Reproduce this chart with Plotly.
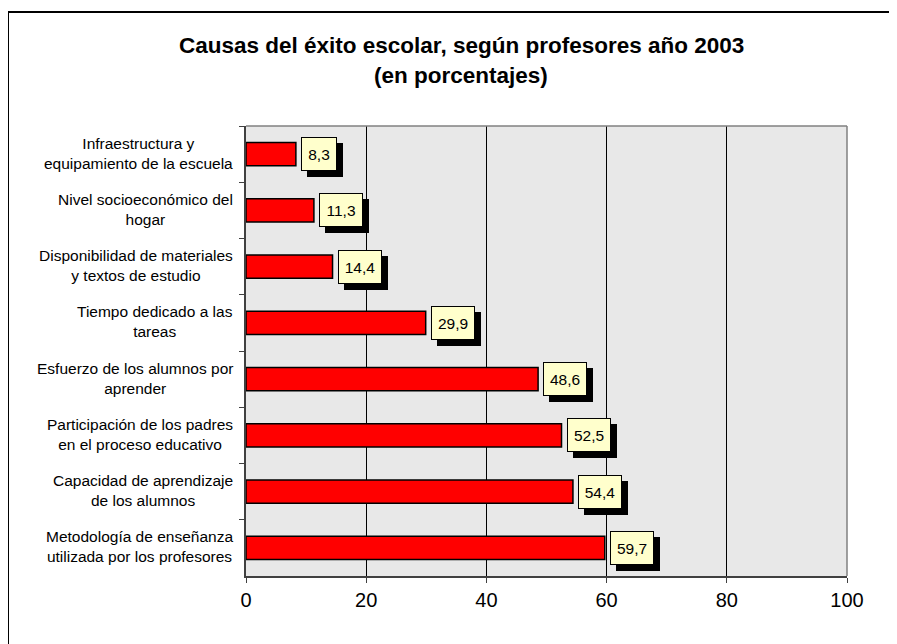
import plotly.graph_objects as go

categories = [
    "Infraestructura y<br>equipamiento de la escuela",
    "Nivel socioeconómico del<br>hogar",
    "Disponibilidad de materiales<br>y textos de estudio",
    "Tiempo dedicado a las<br>tareas",
    "Esfuerzo de los alumnos por<br>aprender",
    "Participación de los padres<br>en el proceso educativo",
    "Capacidad de aprendizaje<br>de los alumnos",
    "Metodología de enseñanza<br>utilizada por los profesores",
]
values = [8.3, 11.3, 14.4, 29.9, 48.6, 52.5, 54.4, 59.7]
value_labels = ["8,3", "11,3", "14,4", "29,9", "48,6", "52,5", "54,4", "59,7"]
x_ticks = [0, 20, 40, 60, 80, 100]
title_lines = ["Causas del éxito escolar, según profesores año 2003", "(en porcentajes)"]

# page has an 8px body margin: work in reference pixels and shift
OFF = 8
W, H = 897 - OFF, 644 - OFF
L, R, T, B = 246 - OFF, 847 - OFF, 126 - OFF, 576 - OFF
pw, ph = R - L, B - T


def px_x(p):
    return (p - OFF - L) / pw


def px_y(p):
    return (B - (p - OFF)) / ph


FONT = "Liberation Sans, Arial, sans-serif"
LBL_SIZE = 15.5


def label_width(t):
    em = sum(0.278 if ch in ",." else 0.556 for ch in t)
    return round(em * LBL_SIZE) + 2


fig = go.Figure()
fig.add_trace(go.Bar(
    y=categories, x=values, orientation="h",
    marker=dict(color="#FF0000", line=dict(color="#000000", width=1.5)),
    hoverinfo="skip",
))

annotations = []
for c in categories:
    annotations.append(dict(
        x=0, xref="paper", xanchor="right", xshift=-11,
        y=c, yref="y", yanchor="middle", yshift=1,
        text=c, showarrow=False, align="center",
        font=dict(family=FONT, size=15.5, color="#000000"),
    ))
for c, v, t in zip(categories, values, value_labels):
    annotations.append(dict(
        x=v, xref="x", xanchor="left", xshift=11,
        y=c, yref="y", yanchor="middle", yshift=-6,
        text="&nbsp;", showarrow=False, height=22, width=label_width(t),
        font=dict(family=FONT, size=LBL_SIZE, color="#000000"),
        bgcolor="#000000", bordercolor="#000000", borderwidth=1, borderpad=5,
    ))
for c, v, t in zip(categories, values, value_labels):
    annotations.append(dict(
        x=v, xref="x", xanchor="left", xshift=5,
        y=c, yref="y", yanchor="middle", yshift=0,
        text=t, showarrow=False, height=22, width=label_width(t),
        font=dict(family=FONT, size=LBL_SIZE, color="#000000"),
        bgcolor="#FFFFCC", bordercolor="#000000", borderwidth=1, borderpad=5,
    ))
for i, line in enumerate(title_lines):
    annotations.append(dict(
        x=px_x(461), xref="paper", xanchor="center",
        y=px_y(45 + 30 * i), yref="paper", yanchor="middle",
        text="<b>" + line + "</b>", showarrow=False,
        font=dict(family=FONT, size=22.5, color="#000000"),
    ))

shapes = [
    dict(type="line", xref="paper", yref="paper",
         x0=px_x(8), x1=px_x(8), y0=px_y(12), y1=px_y(720),
         line=dict(color="#000000", width=2)),
    dict(type="line", xref="paper", yref="paper",
         x0=px_x(8), x1=px_x(960), y0=px_y(12), y1=px_y(12),
         line=dict(color="#000000", width=2)),
    dict(type="line", xref="paper", yref="paper",
         x0=0, x1=1, y0=1, y1=1, line=dict(color="#808080", width=1.5), layer="above"),
    dict(type="line", xref="paper", yref="paper",
         x0=1, x1=1, y0=0, y1=1, line=dict(color="#808080", width=1.5), layer="above"),
]

fig.update_layout(
    width=W, height=H,
    margin=dict(l=L, r=W - R, t=T, b=H - B, pad=0),
    paper_bgcolor="#FFFFFF",
    plot_bgcolor="#E8E8E8",
    showlegend=False,
    bargap=0.59,
    annotations=annotations,
    shapes=shapes,
    xaxis=dict(
        range=[0, 100], tickvals=x_ticks, ticktext=[str(t) for t in x_ticks],
        showgrid=True, gridcolor="#000000", gridwidth=1,
        zeroline=False, showline=True, linecolor="#404040", linewidth=1.5,
        ticks="outside", ticklen=5, tickcolor="#404040", tickwidth=1,
        tickfont=dict(family=FONT, size=20, color="#000000"),
        fixedrange=True,
    ),
    yaxis=dict(
        type="category", autorange="reversed",
        showticklabels=False, tickson="boundaries",
        ticks="outside", ticklen=5, tickcolor="#404040", tickwidth=1,
        showgrid=False, zeroline=False,
        showline=True, linecolor="#404040", linewidth=1.5,
        fixedrange=True,
    ),
)

fig.write_html("out.html")
